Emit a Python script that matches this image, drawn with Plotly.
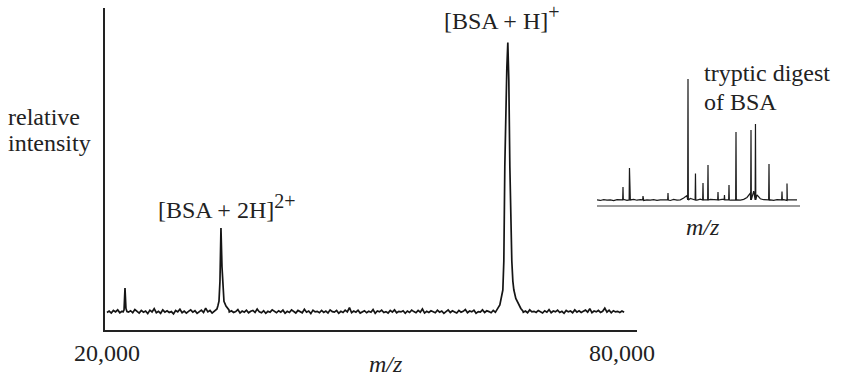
import plotly.graph_objects as go

# ---------------- main spectrum data ----------------
main_start = 20000
main_step = 250
main_baseline = [
    6.1, 6.6, 5.9, 6.8, 6.3, 7.0, 6.0, 6.5, 5.8, 6.9, 6.2, 6.7, 6.0, 7.1, 6.4, 5.9, 6.8, 6.2, 6.6, 5.7,
    6.9, 6.3, 7.4, 6.0, 6.5, 5.8, 7.0, 6.2, 6.7, 6.1, 6.4, 5.6, 6.8, 6.3, 7.2, 6.0, 6.6, 5.9, 6.5, 7.0,
    6.2, 6.7, 5.8, 6.4, 6.9, 6.1, 7.6, 6.3, 6.8, 5.9, 6.6, 6.2, 7.0, 6.0, 6.5, 5.8, 6.9, 6.3, 6.7, 6.1,
    6.4, 7.1, 5.9, 6.6, 6.2, 6.9, 6.0, 6.5, 6.8, 6.1, 7.3, 6.3, 6.0, 6.7, 5.8, 6.5, 6.2, 7.0, 6.4, 6.0,
    6.7, 6.2, 6.9, 5.8, 6.5, 6.1, 7.0, 6.3, 5.9, 6.8, 6.4, 6.0, 7.2, 6.2, 6.6, 5.7, 6.9, 6.3, 6.5, 6.0,
    6.8, 6.1, 6.6, 5.9, 7.0, 6.4, 6.2, 6.8, 5.8, 6.5, 6.1, 6.9, 6.3, 7.8, 6.0, 6.6, 6.2, 6.9, 5.9, 6.4,
    6.7, 6.0, 6.5, 6.2, 7.1, 5.8, 6.6, 6.3, 6.9, 6.1, 6.4, 5.9, 6.8, 6.2, 7.0, 6.0, 6.5, 6.3, 6.7, 5.8,
    6.6, 6.1, 6.9, 6.4, 6.0, 6.8, 6.2, 7.3, 5.9, 6.5, 6.1, 6.7, 6.3, 6.0, 6.9, 6.2, 6.6, 5.8, 6.4, 7.0,
    6.1, 6.7, 6.3, 5.9, 6.8, 6.2, 6.5, 7.1, 6.0, 6.6, 6.3, 6.9, 5.8, 6.4, 6.2, 7.0, 6.1, 6.7, 6.4, 6.0,
    6.8, 6.2, 6.6, 5.9, 6.5, 7.2, 6.0, 6.7, 6.3, 6.9, 6.1, 6.4, 5.8, 6.8, 6.2, 6.6, 6.0, 7.0, 6.3, 6.5,
    6.1, 6.8, 6.4, 5.9, 6.7, 6.2, 7.1, 6.0, 6.6, 6.3, 6.9, 6.1, 6.5, 5.8, 6.8, 6.3, 6.6, 6.0, 7.0, 6.2,
    6.7, 6.1, 6.5, 6.9, 6.2, 7.4, 6.0, 6.6, 6.3, 6.8, 6.1, 6.5, 7.6, 6.2, 6.9, 6.0, 6.7, 6.3, 6.5, 6.1,
    6.6, 6.2,
]
# peaks: (m/z, intensity)
small_peak_mz = [21880, 21990, 22100, 22210, 22330]
small_peak_int = [6.3, 7.0, 14.6, 7.5, 6.4]
peak_2h_mz = [32580, 32815, 32930, 33050, 33165, 33280, 33400, 33515, 33630, 33865, 34210]
peak_2h_int = [6.6, 7.3, 8.5, 10.0, 17.0, 35.5, 22.0, 13.0, 10.0, 8.3, 7.0]
peak_h_mz = [65300, 65420, 65770, 66120, 66235, 66350, 66470, 66585, 66700, 66815, 66935,
             67050, 67165, 67285, 67400, 67630, 67865, 68215, 68450]
peak_h_int = [6.4, 7.0, 8.7, 13.9, 24.0, 57.0, 78.0, 91.0, 100.0, 87.0, 57.0,
              38.0, 24.0, 17.0, 14.0, 11.0, 9.5, 7.5, 6.6]

# ---------------- inset (tryptic digest) data ----------------
inset_start = 500
inset_step = 50
inset_baseline = [
    4.0, 3.6, 4.3, 3.8, 4.1, 3.5, 4.2, 3.9, 4.4, 3.7, 4.0, 4.5, 3.8, 4.2, 3.6, 4.1, 3.9, 4.3, 3.7, 4.0,
    3.8, 4.2, 3.6, 4.4, 3.9, 4.1, 5.5, 7.5, 5.2, 4.3, 3.9, 4.6, 4.1, 3.8, 4.4, 4.0, 3.7, 4.2, 4.6, 4.0,
    3.8, 4.3, 4.1, 3.9, 4.5, 6.0, 9.5, 11.0, 8.0, 5.0, 4.2, 3.8, 4.1, 3.7, 4.3, 3.9, 4.2, 3.6, 4.0, 3.8,
    4.1,
]
inset_peak_mz = [890, 987, 1190, 1565, 1865, 1977, 2090, 2165, 2315, 2412, 2480, 2585,
                 2810, 2877, 3080, 3275, 3350]
inset_peak_int = [14.3, 29.4, 7.1, 9.5, 100.0, 25.0, 17.5, 31.7, 10.3, 7.9, 15.9, 57.9,
                  59.5, 64.3, 32.5, 10.7, 17.0]

# ---------------- build traces ----------------
main_pts = []
windows = [(small_peak_mz[0], small_peak_mz[-1]), (peak_2h_mz[0], peak_2h_mz[-1]),
           (peak_h_mz[0], peak_h_mz[-1])]
for i, v in enumerate(main_baseline):
    x = main_start + i * main_step
    if any(a <= x <= b for a, b in windows):
        continue
    main_pts.append((x, v))
for xs, ys in [(small_peak_mz, small_peak_int), (peak_2h_mz, peak_2h_int), (peak_h_mz, peak_h_int)]:
    main_pts.extend(zip(xs, ys))
main_pts.sort()

inset_pts = []
for i, v in enumerate(inset_baseline):
    inset_pts.append((inset_start + i * inset_step, v))
for mz, h in zip(inset_peak_mz, inset_peak_int):
    inset_pts.extend([(mz - 5, 4.0), (mz, h), (mz + 5, 4.0)])
inset_pts.sort()

fig = go.Figure()
fig.add_trace(go.Scatter(x=[p[0] for p in main_pts], y=[p[1] for p in main_pts],
                         mode="lines", line=dict(color="#151515", width=1.7),
                         xaxis="x", yaxis="y", showlegend=False, hoverinfo="skip"))
fig.add_trace(go.Scatter(x=[p[0] for p in inset_pts], y=[p[1] for p in inset_pts],
                         mode="lines", line=dict(color="#1a1a1a", width=1.2),
                         xaxis="x2", yaxis="y2", showlegend=False, hoverinfo="skip"))

W, H = 842, 377
FONT = "Times New Roman"

def px(x):
    return x / W

def py(y):
    return 1 - y / H

fig.update_layout(
    width=W, height=H,
    margin=dict(l=0, r=0, t=0, b=0, autoexpand=False),
    paper_bgcolor="white", plot_bgcolor="white",
    font=dict(family=FONT, size=24, color="#222"),
    xaxis=dict(domain=[px(105), px(637)], range=[19770, 81750],
               showline=True, linecolor="#222", linewidth=2,
               showgrid=False, zeroline=False, ticks="", automargin=False,
               tickvals=[20000, 80000], ticktext=["20,000", "80,000"],
               tickfont=dict(family=FONT, size=24, color="#222")),
    yaxis=dict(domain=[py(330), py(8)], range=[0, 112], automargin=False,
               showline=True, linecolor="#222", linewidth=2,
               showgrid=False, zeroline=False, showticklabels=False, ticks=""),
    xaxis2=dict(domain=[px(597), px(800)], range=[500, 3545], anchor="y2",
                showline=True, linecolor="#999", linewidth=1.5, automargin=False,
                showgrid=False, zeroline=False, showticklabels=False, ticks=""),
    yaxis2=dict(domain=[py(205), py(79)], range=[0, 100], anchor="x2", automargin=False,
                showline=False, showgrid=False, zeroline=False,
                showticklabels=False, ticks=""),
)

def ann(text, x, y, xanchor="left"):
    fig.add_annotation(text=text, x=px(x), y=py(y), xref="paper", yref="paper",
                       xanchor=xanchor, yanchor="middle", showarrow=False,
                       font=dict(family=FONT, size=24, color="#222"))

SUP = "<sup><span style='font-size:20px'>{}</span></sup>"
ann("relative", 6, 117)
ann("intensity", 6, 143)
ann("[BSA + 2H]" + SUP.format("2+"), 156, 206)
ann("[BSA + H]" + SUP.format("+"), 442, 18)
ann("tryptic digest", 702, 73)
ann("of BSA", 702, 102)
ann("<i>m/z</i>", 386, 364, xanchor="center")
ann("<i>m/z</i>", 703, 227, xanchor="center")

fig.write_html("out.html", config={"displayModeBar": False},
               post_script="document.body.style.margin='0';document.body.style.padding='0';")
